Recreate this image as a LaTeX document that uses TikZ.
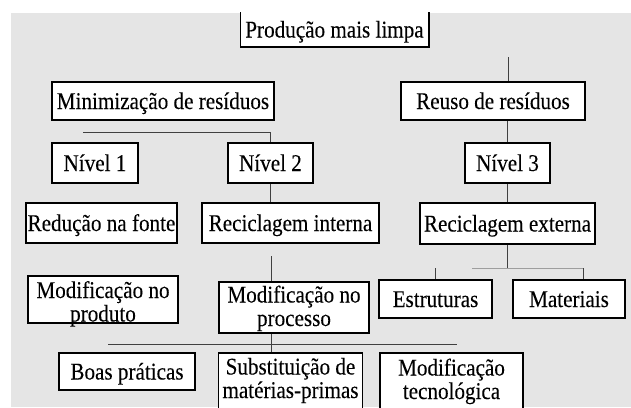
\documentclass[tikz,border=0pt]{standalone}
\usepackage{fontspec}
\setmainfont{Liberation Serif}[FakeStretch=0.88, FakeBold=0.12]
\usepackage{tikz}
\definecolor{fundo cinza}{rgb}{0.898, 0.898, 0.898}
\definecolor{linha escura}{rgb}{0.25, 0.25, 0.25}
\definecolor{linha clara}{rgb}{0.62, 0.62, 0.62}
\tikzset{
	caixa/.style = {draw, line width = 1.5pt, fill = white, inner sep = 0pt},
	umalinha/.style = {caixa, text height = 16pt, text depth = 0pt},
	duaslinhas/.style = {caixa, align = center, text depth = 0pt},
	conector/.style = {draw = linha escura, line width = 0.9pt}
}
\begin{document}
\begin{tikzpicture}[x = 1pt, y = -1pt, font = \fontsize{24}{23.5}\selectfont]
			\clip (0, 0) rectangle (631, 407);
			% background
			\fill[fundo cinza] (11, 13) rectangle (631, 407);
			% part for the boxes
			\begin{scope}
				\node[umalinha, draw = none, minimum width = 187pt, minimum height = 33pt] (pml) at (334.5, 29.5) {Produção mais limpa};
				\draw[line width = 1.5pt] (pml.north west) |- (pml.south east) -- (pml.north east);
				\node[umalinha, minimum width = 222pt, minimum height = 38pt] (minim) at (163, 101) {Minimização de resíduos};
				\node[umalinha, minimum width = 184pt, minimum height = 38pt] (reuso) at (493, 101) {Reuso de resíduos};
				\node[umalinha, minimum width = 86pt, minimum height = 40pt] (n1) at (95, 163) {Nível 1};
				\node[umalinha, minimum width = 85pt, minimum height = 40pt] (n2) at (270.5, 163) {Nível 2};
				\node[umalinha, minimum width = 85pt, minimum height = 40pt] (n3) at (507.5, 163) {Nível 3};
				\node[umalinha, minimum width = 151pt, minimum height = 40pt] (reduc) at (101.5, 223) {Redução na fonte};
				\node[umalinha, minimum width = 177pt, minimum height = 40pt] (recint) at (290.5, 223) {Reciclagem interna};
				\node[umalinha, minimum width = 175pt, minimum height = 41pt] (recext) at (507.5, 223.5) {Reciclagem externa};
				\node[duaslinhas, text height = 44pt, minimum width = 150pt, minimum height = 47pt] (modprod) at (103, 299.5) {Modificação no\\produto};
				\node[duaslinhas, text height = 37pt, minimum width = 150pt, minimum height = 51pt] (modproc) at (294, 307.5) {Modificação no\\processo};
				\node[umalinha, minimum width = 113pt, minimum height = 38pt] (estr) at (435.5, 299) {Estruturas};
				\node[umalinha, minimum width = 112pt, minimum height = 38pt] (mat) at (569, 299) {Materiais};
				\node[umalinha, minimum width = 136pt, minimum height = 37pt] (boas) at (127, 371.5) {Boas práticas};
				\node[duaslinhas, text height = 28pt, minimum width = 144pt, minimum height = 62pt] (subs) at (290.5, 384) {Substituição de\\matérias-primas};
				\node[duaslinhas, text height = 30pt, minimum width = 143pt, minimum height = 62pt] (modtec) at (451.5, 384) {Modificação\\tecnológica};
			\end{scope}
			% part for the lines
			\begin{scope}
				\coordinate (topoR) at (508, 57);
				\coordinate (ramoM) at (83, 132);
				\coordinate (topoP) at (271, 256);
				\coordinate (ramoP) at (108, 344);
				\coordinate (fimP) at (457, 344);
				\coordinate (ramoE) at (472, 268);
				\coordinate (fimE) at (583, 268);
				\draw[conector] (topoR) -- (topoR |- reuso.north);
				\draw[conector] (n3.north |- reuso.south) -- (n3.north);
				\draw[conector] (ramoM) -| (n2.north);
				\draw[conector] (n2.south) -- (n2.south |- recint.north);
				\draw[conector] (n3.south) -- (n3.south |- recext.north);
				\draw[conector] (topoP) -- (topoP |- modproc.north);
				\draw[conector] (topoP |- modproc.south) -- (topoP |- subs.north);
				\draw[conector] (ramoP) -- (fimP);
				\draw[conector] (recext.south) -- (recext.south |- ramoE);
				\draw[conector, draw = linha clara] (ramoE) -- (fimE);
				\draw[conector] (estr.north |- ramoE) -- (estr.north);
				\draw[conector] (fimE) -- (fimE |- mat.north);
			\end{scope}
		\end{tikzpicture}
\end{document}
